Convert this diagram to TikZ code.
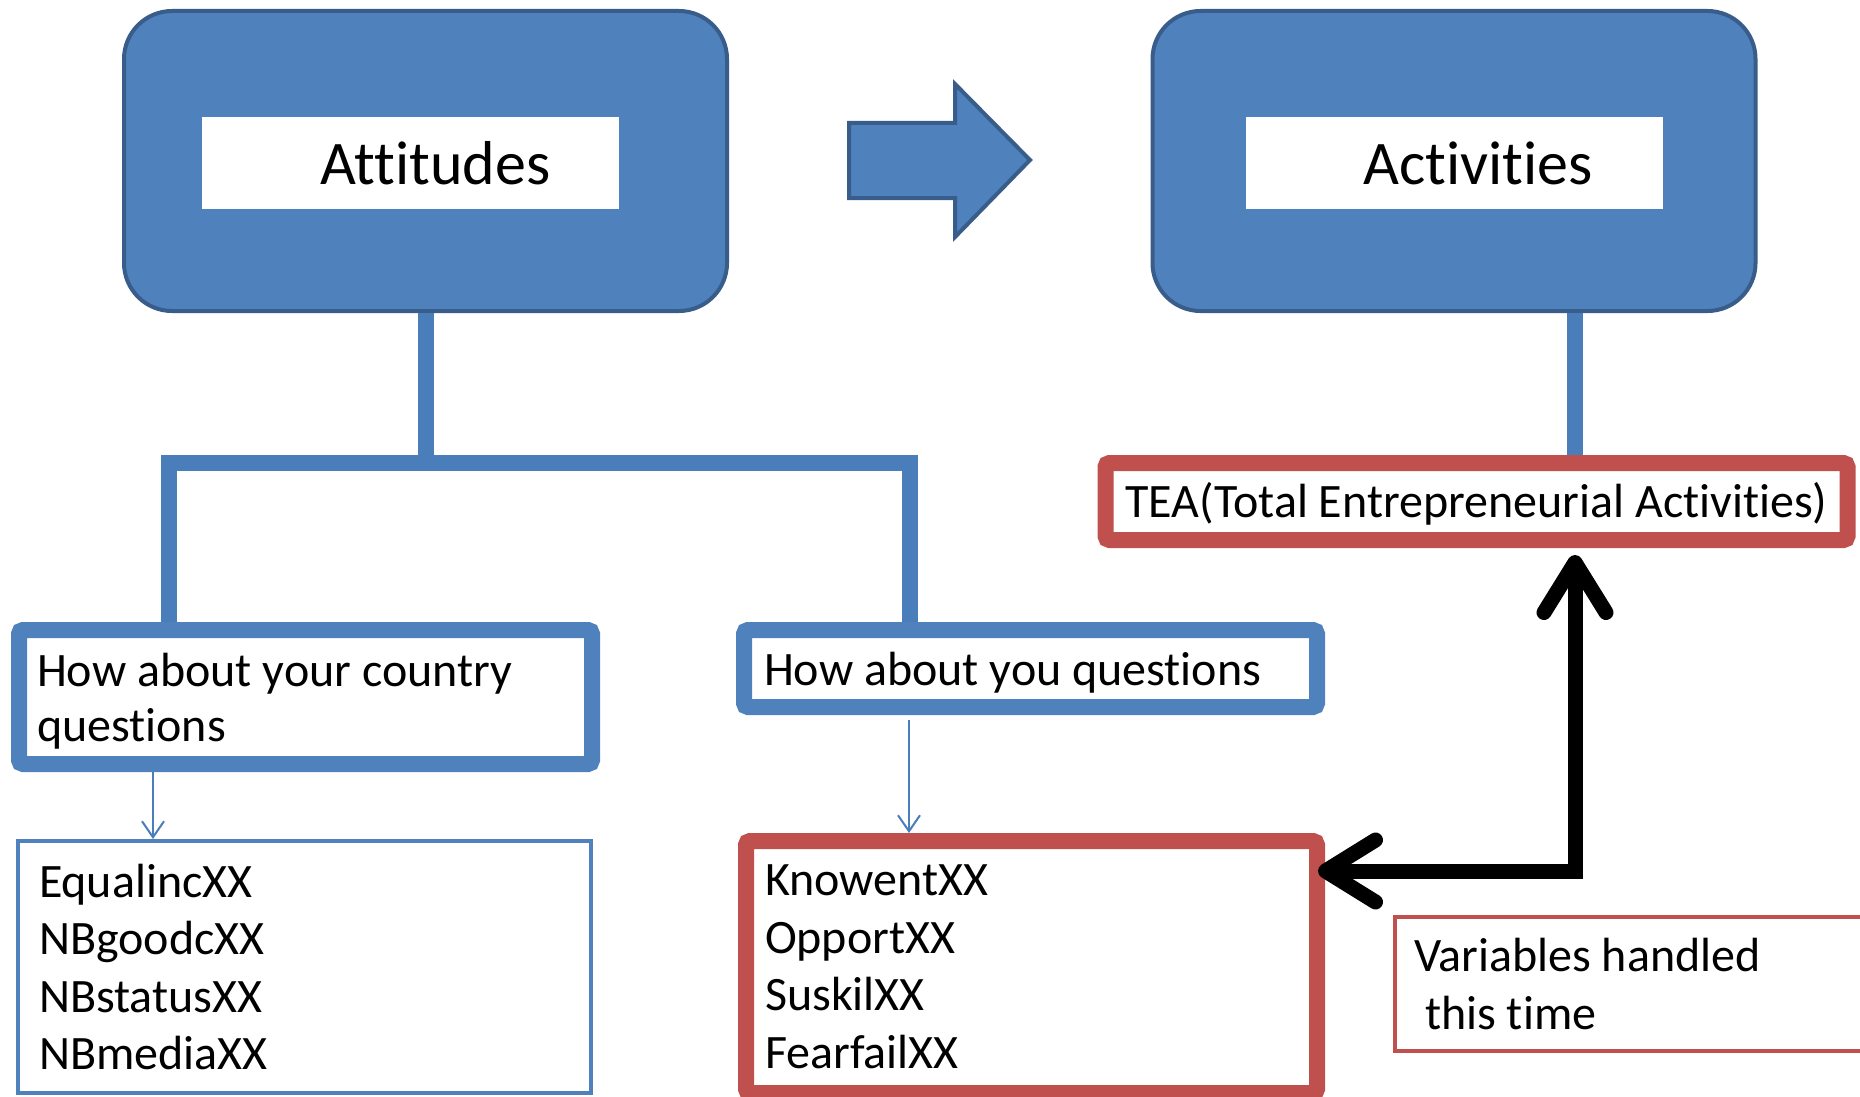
\documentclass[tikz,border=0pt]{standalone}
\usepackage{fontspec}
\setmainfont{Carlito}[RawFeature={-liga;-clig}]
\usetikzlibrary{arrows.meta}
\definecolor{blueF}{HTML}{4F81BD}
\definecolor{blueD}{HTML}{385D8A}
\definecolor{blueC}{HTML}{4A7EBB}
\definecolor{redB}{HTML}{C0504D}
\newcommand\mybigfont{\fontsize{62}{70}\selectfont}
\newcommand\mybodyfont{\fontsize{48}{57.5}\selectfont}
\newcommand\mycountryfont{\fontsize{48}{55}\selectfont}
\tikzset{
  bigbox/.style={draw=blueD, fill=blueF, line width=4pt, rounded corners=48pt,
    minimum width=603pt, minimum height=300pt, inner sep=0pt, outer sep=2pt},
  whitelab/.style={fill=white, inner sep=0pt, minimum width=417pt,
    minimum height=92pt, font=\mybigfont},
  qbox/.style={draw=blueF, line width=16pt, rounded corners=4pt, fill=white,
    inner ysep=0pt, outer sep=8pt, align=flush left, font=\mybodyfont},
  redbox/.style={qbox, draw=redB},
  thinbox/.style={draw=blueF, line width=4pt, fill=white, inner ysep=0pt,
    outer sep=2pt, align=flush left, font=\mybodyfont},
  thinred/.style={thinbox, draw=redB},
  conn/.style={draw=blueC, line width=16pt},
  thinarrow/.style={draw=blueC, line width=2pt, -{Straight Barb[length=16pt,width=22pt]}},
  blk/.style={draw=black, line width=15pt,
    {Straight Barb[length=50pt,width=62pt,round]}-{Straight Barb[length=50pt,width=62pt,round]}},
  blockarrow/.style={fill=blueF, draw=blueD, line width=4pt, line join=miter}
}
\begin{document}
\begin{tikzpicture}[x=1pt,y=-1pt]
\useasboundingbox (0,0) rectangle (1860,1097);
\clip (0,0) rectangle (1860,1097);
\fill[white] (0,0) rectangle (1860,1097);

% big boxes
\node[bigbox] (att) at (425.5,161) {};
\node[bigbox] (act) at (1454,161) {};
\node[whitelab] (attl) at (410.5,163) {\hspace*{50pt}Attitudes};
\node[whitelab] (actl) at (1454,163) {\hspace*{48pt}Activities};

% block arrow
\path[blockarrow] (849,123) -- (955,123) -- (955,84) -- (1030,160) -- (955,237)
  -- (955,198) -- (849,198) -- cycle;

% question boxes
\node[qbox, font=\mycountryfont, minimum width=573pt, text width=537pt, inner xsep=18pt,
  minimum height=134pt] (country) at (305.5,697)
  {\rule{0pt}{42pt}How about your country\\questions};
\node[qbox, minimum width=573pt, text width=533pt, inner xsep=20pt,
  minimum height=77pt, text height=36pt, text depth=3pt] (you) at (1030.5,668.5)
  {How about you questions};

% variable boxes
\node[thinbox, minimum width=573pt, text width=531pt, inner xsep=21pt,
  minimum height=252pt] (lvar) at (304.5,967) {EqualincXX\\NBgoodcXX\\NBstatusXX\\NBmediaXX};
\node[redbox, minimum width=571pt, text width=533pt, inner xsep=19pt,
  minimum height=252pt] (know) at (1031.5,967) {KnowentXX\\OpportXX\\SuskilXX\\FearfailXX};

% TEA
\node[redbox, minimum width=741pt, inner xsep=20pt, minimum height=77pt, align=center,
  text height=35pt, text depth=4pt]
  (tea) at (1476.5,501.5) {TEA(Total Entrepreneurial Activities)};

% note box
\node[thinred, minimum width=480pt, text width=442pt, inner xsep=19pt,
  minimum height=134pt, font=\fontsize{48}{58}\selectfont] (note) at (1635,984)
  {Variables handled\\\hspace*{0.23em}this time};

% connectors
\coordinate (lx) at (169,463);
\coordinate (rx) at (910,463);
\coordinate (ax) at (1575,0);
\coordinate (tlx) at (153,0);
\coordinate (trx) at (909,0);
\coordinate (by) at (0,871);

\draw[conn] (att.south) |- (lx) -- (country.north -| lx);
\draw[conn] (att.south) |- (rx) -- (you.north -| rx);
\draw[conn] (act.south -| ax) -- (tea.north -| ax);

\draw[thinarrow] (country.south -| tlx) -- (lvar.north -| tlx);
\draw[thinarrow] ([yshift=-5pt]you.south -| trx) -- (know.north -| trx);

\draw[blk] ([yshift=-7pt]tea.south -| ax) |- ([xshift=-7pt]know.east |- by);
\end{tikzpicture}
\end{document}
